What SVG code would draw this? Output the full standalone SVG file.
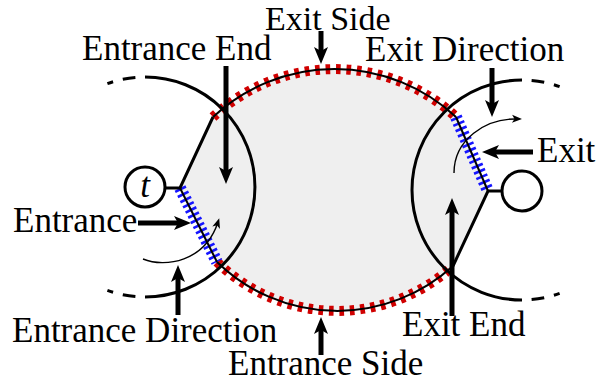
<svg xmlns="http://www.w3.org/2000/svg" width="596" height="385" viewBox="0 0 596 385">
<style>
text{font-family:"Liberation Serif","Times New Roman","DejaVu Serif",serif;font-size:35px;fill:#000}
.big{fill:none;stroke:#000;stroke-width:3}
.dash{fill:none;stroke:#000;stroke-width:3;stroke-dasharray:6 10 13 40}
.redh{fill:none;stroke:#d00000;stroke-width:10;stroke-dasharray:4.6 5.8}
.blueh{fill:none;stroke:#1515ff;stroke-width:12;stroke-dasharray:2.6 3.2}
.core{fill:none;stroke:#000;stroke-width:2}
.edge{fill:none;stroke:#000;stroke-width:3}
.arr{fill:none;stroke:#000;stroke-width:5;marker-end:url(#ah)}
.thin{fill:none;stroke:#000;stroke-width:1.4;marker-end:url(#th)}
.node{fill:#fff;stroke:#000;stroke-width:3}
</style>
<defs>
<marker id="ah" markerUnits="userSpaceOnUse" viewBox="-8 -8 20 16" refX="0" refY="0" markerWidth="20" markerHeight="16" orient="auto" overflow="visible">
<path d="M-7,-7 L10,0 L-7,7 L-3,0 z" fill="#000"/>
</marker>
<marker id="th" markerUnits="userSpaceOnUse" viewBox="-6 -5 12 10" refX="0" refY="0" markerWidth="12" markerHeight="10" orient="auto" overflow="visible">
<path d="M-6,-4 L4,0 L-6,4 L-3.5,0 z" fill="#000"/>
</marker>
</defs>
<g id="region">
<path d="M213,117 A178,178 0 0 1 456,117 L488,191 L453,266 A172,172 0 0 1 217,262 L180,188 Z" fill="#efefef"/>
</g>
<g id="exit-side">
<path class="redh" d="M213,117 A178,178 0 0 1 456,117"/>
<path class="core" d="M213,117 A178,178 0 0 1 456,117"/>
</g>
<g id="entrance-side">
<path class="redh" d="M217,262 A172,172 0 0 0 453,266"/>
<path class="core" d="M217,262 A172,172 0 0 0 453,266"/>
</g>
<g id="entrance-edge">
<path class="blueh" d="M180,188 L217,262"/>
<path class="core" d="M180,188 L217,262"/>
<path class="edge" d="M213,117 L180,188 L165,188"/>
</g>
<g id="exit-edge">
<path class="blueh" d="M456,117 L488,191"/>
<path class="core" d="M456,117 L488,191"/>
<path class="edge" d="M453,266 L488,191 L502,191"/>
</g>
<g id="circles">
<path class="big" d="M145,77 A110,110 0 0 1 145,297"/>
<path class="dash" d="M107.4,83.6 A110,110 0 0 1 135.4,77.4"/>
<path class="dash" d="M107.4,290.4 A110,110 0 0 0 135.4,296.6"/>
<path class="big" d="M522,80 A110,110 0 0 0 522,300"/>
<path class="dash" d="M559.6,86.6 A110,110 0 0 0 531.6,80.4"/>
<path class="dash" d="M559.6,293.4 A110,110 0 0 1 531.6,299.6"/>
</g>
<g id="node-t">
<circle class="node" cx="145" cy="187" r="20"/>
<text x="145" y="197" text-anchor="middle" font-family="Liberation Serif, Times New Roman, serif" font-style="italic" font-size="32">t</text>
</g>
<g id="node-exit">
<circle class="node" cx="522" cy="191" r="20"/>
</g>
<g id="connectors">
<path class="thin" d="M143,259 C165,268 205,262 218,222"/>
<path class="thin" d="M454,173 C454,140 485,118 518,119"/>
<line class="arr" x1="321" y1="31" x2="321" y2="54"/>
<line class="arr" x1="226" y1="66" x2="226" y2="174"/>
<line class="arr" x1="492" y1="68" x2="492" y2="107"/>
<line class="arr" x1="533" y1="152" x2="492" y2="152"/>
<line class="arr" x1="452" y1="316" x2="452" y2="208"/>
<line class="arr" x1="138" y1="223" x2="181" y2="223"/>
<line class="arr" x1="178" y1="315" x2="178" y2="275"/>
<line class="arr" x1="321" y1="355" x2="321" y2="327"/>
</g>
<g id="labels" font-family="Liberation Serif, Times New Roman, serif">
<text x="265" y="30" style="font-size:34px">Exit Side</text>
<text x="82" y="60">Entrance End</text>
<text x="365" y="61">Exit Direction</text>
<text x="537" y="162">Exit</text>
<text x="13" y="232">Entrance</text>
<text x="12" y="342">Entrance Direction</text>
<text x="402" y="336">Exit End</text>
<text x="228" y="375">Entrance Side</text>
</g>
</svg>
